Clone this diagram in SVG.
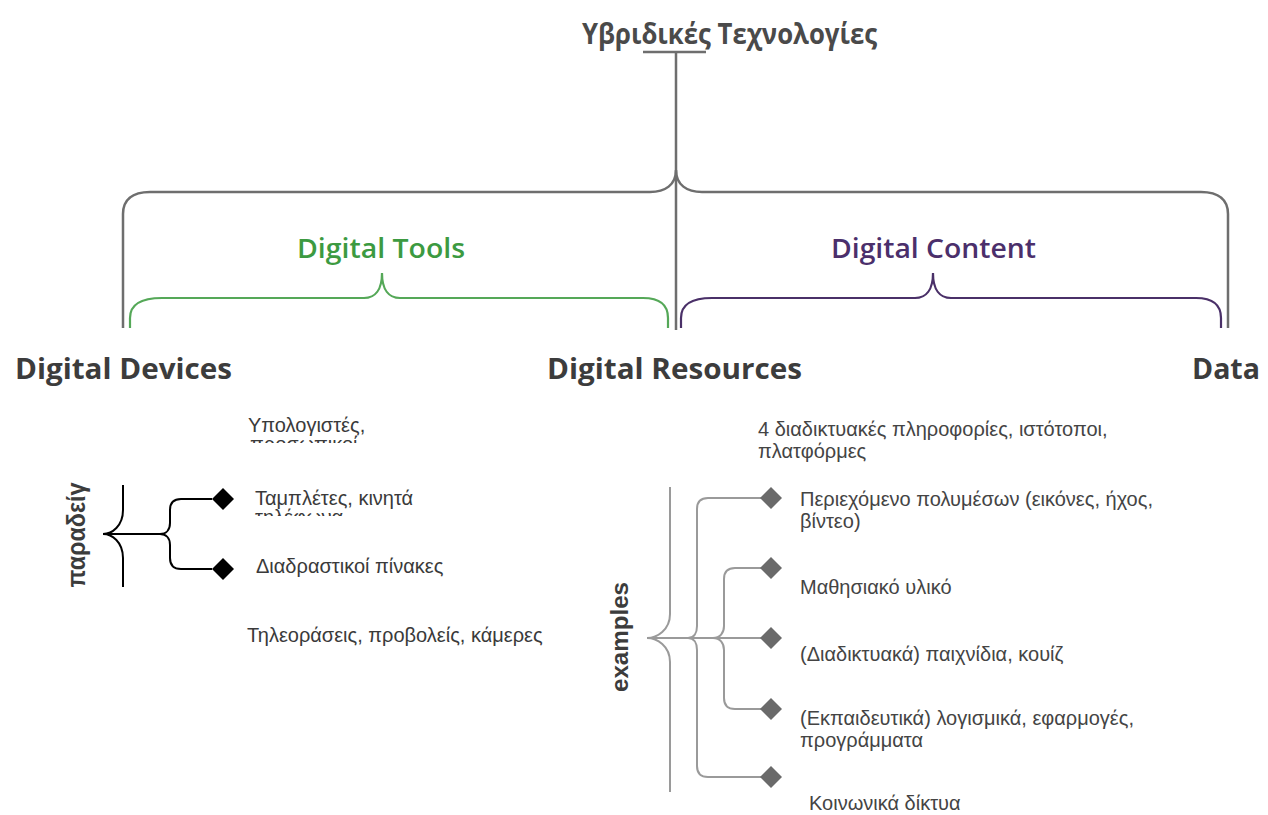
<svg xmlns="http://www.w3.org/2000/svg" width="1268" height="815" viewBox="0 0 1268 815">
<style>
.title{font-family:"Open Sans","Noto Sans","DejaVu Sans",sans-serif;font-weight:700;font-size:29px;fill:#4a4a4a}
.head{font-family:"Open Sans","Noto Sans",sans-serif;font-weight:700;font-size:29px;fill:#3c3c3c}
.cat{font-family:"Open Sans","Noto Sans",sans-serif;font-weight:600;font-size:27px}
.item{font-family:"Liberation Sans",Arial,sans-serif;font-size:20px;fill:#3a3a3a}
.ritem{font-family:"Liberation Sans",Arial,sans-serif;font-size:20px;fill:#444}
.rot{font-family:"Liberation Sans",Arial,sans-serif;font-weight:700;fill:#3c3c3c}
.gray{fill:none;stroke:#6e6e6e;stroke-width:2.5}
.green{fill:none;stroke:#55a858;stroke-width:2.2}
.purple{fill:none;stroke:#4a3068;stroke-width:2.2}
.black{fill:none;stroke:#000;stroke-width:2}
.lgray{fill:none;stroke:#9a9a9a;stroke-width:2}
.dblack{fill:#000}
.dgray{fill:#6a6a6a}
</style>
<defs>
<clipPath id="c1"><rect x="240" y="400" width="200" height="43"/></clipPath>
<clipPath id="c2"><rect x="240" y="480" width="200" height="36"/></clipPath>
</defs>

<g id="connectors">
<path class="gray" d="M643 52 H706"/>
<path class="gray" d="M676 52 V330"/>
<path class="gray" d="M123 328 V214 C123 200 132 192 150 192 H650 C665 192 676 185 676 170 C676 185 687 192 702 192 H1201 C1219 192 1228 200 1228 214 V328"/>
<path class="green" d="M130 328 V318 C130 305 140 298 162 298 H364 C375 298 382 290 382 273 C382 290 389 298 400 298 H643 C660 298 668 305 668 318 V328"/>
<path class="purple" d="M681 328 V318 C681 305 690 298 712 298 H915 C926 298 933 290 933 273 C933 290 940 298 951 298 H1196 C1213 298 1221 305 1221 318 V328"/>
<path class="black" d="M123 485 V510 C123 526 112 534 103 534 C112 534 123 542 123 558 V587"/>
<path class="black" d="M103 534 H160"/>
<path class="black" d="M212 499 H181 C174 499 170 503 170 510 V523 C170 530 166 534 160 534 C166 534 170 538 170 545 V558 C170 565 174 569 181 569 H212"/>
<path class="lgray" d="M670 487 V614 C670 630 657 638 647 638 C657 638 670 646 670 662 V792"/>
<path class="lgray" d="M647 638 H761"/>
<path class="lgray" d="M761 498 H708 C701 498 697 502 697 509 V626 C697 633 694 638 688 638 C694 638 697 643 697 650 V766 C697 773 701 777 708 777 H761"/>
<path class="lgray" d="M761 568 H735 C728 568 724 572 724 579 V626 C724 633 720 638 713 638 C720 638 724 643 724 650 V698 C724 705 728 709 735 709 H761"/>
</g>

<g id="title"><text class="title" x="582" y="44" textLength="295" lengthAdjust="spacingAndGlyphs">Υβριδικές Τεχνολογίες</text></g>

<g id="digital-tools"><text class="cat" x="297" y="258" fill="#3c9a41" textLength="168" lengthAdjust="spacingAndGlyphs">Digital Tools</text></g>
<g id="digital-content"><text class="cat" x="831" y="258" fill="#4b2f6b" textLength="205" lengthAdjust="spacingAndGlyphs">Digital Content</text></g>

<g id="digital-devices"><text class="head" x="15" y="379" textLength="217" lengthAdjust="spacingAndGlyphs">Digital Devices</text></g>
<g id="digital-resources"><text class="head" x="547" y="379" textLength="255" lengthAdjust="spacingAndGlyphs">Digital Resources</text></g>
<g id="data"><text class="head" x="1192" y="379" textLength="68" lengthAdjust="spacingAndGlyphs">Data</text></g>

<g id="computers">
<text class="item" x="248" y="432">Υπολογιστές,</text>
<text class="item" x="250" y="451" clip-path="url(#c1)">προσωπικοί</text>
</g>
<g id="examples-devices-label"><text class="rot" font-size="25" transform="translate(85 535) rotate(-90)" text-anchor="middle" textLength="105" lengthAdjust="spacingAndGlyphs">παραδείγ</text></g>
<g id="tablets">
<polygon class="dblack" points="223,488 234,499 223,510 212,499"/>
<text class="item" x="255" y="505">Ταμπλέτες, κινητά</text>
<text class="item" x="255" y="524" clip-path="url(#c2)">τηλέφωνα</text>
</g>
<g id="boards">
<polygon class="dblack" points="223,558 234,569 223,580 212,569"/>
<text class="item" x="256" y="573">Διαδραστικοί πίνακες</text>
</g>
<g id="tvs"><text class="item" x="247" y="642">Τηλεοράσεις, προβολείς, κάμερες</text></g>

<g id="online-info">
<text class="ritem" x="758" y="436">4 διαδικτυακές πληροφορίες, ιστότοποι,</text>
<text class="ritem" x="758" y="458">πλατφόρμες</text>
</g>
<g id="examples-label"><text class="rot" font-size="23" transform="translate(628 637) rotate(-90)" text-anchor="middle" textLength="110" lengthAdjust="spacingAndGlyphs">examples</text></g>
<g id="multimedia">
<polygon class="dgray" points="771,487 782,498 771,509 760,498"/>
<text class="ritem" x="800" y="506">Περιεχόμενο πολυμέσων (εικόνες, ήχος,</text>
<text class="ritem" x="800" y="528">βίντεο)</text>
</g>
<g id="learning-material">
<polygon class="dgray" points="771,557 782,568 771,579 760,568"/>
<text class="ritem" x="800" y="594">Μαθησιακό υλικό</text>
</g>
<g id="games">
<polygon class="dgray" points="771,627 782,638 771,649 760,638"/>
<text class="ritem" x="800" y="661">(Διαδικτυακά) παιχνίδια, κουίζ</text>
</g>
<g id="software">
<polygon class="dgray" points="771,698 782,709 771,720 760,709"/>
<text class="ritem" x="800" y="725">(Εκπαιδευτικά) λογισμικά, εφαρμογές,</text>
<text class="ritem" x="800" y="747">προγράμματα</text>
</g>
<g id="social">
<polygon class="dgray" points="771,766 782,777 771,788 760,777"/>
<text class="ritem" x="809" y="810">Κοινωνικά δίκτυα</text>
</g>
</svg>
